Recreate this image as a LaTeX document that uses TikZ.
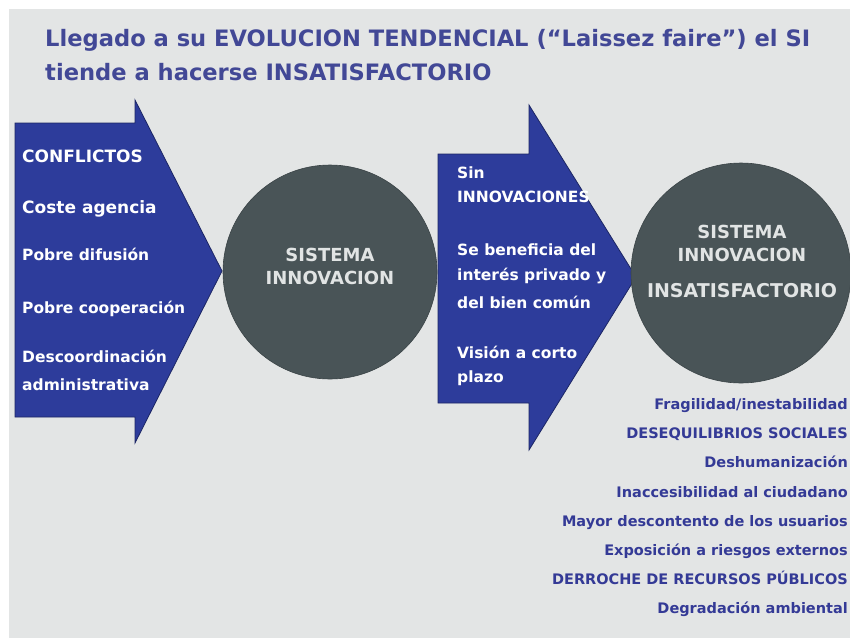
\documentclass[tikz,border=0pt]{standalone}
\usepackage{fontspec}
\setmainfont{DejaVu Sans}
\definecolor{bg}{RGB}{227,229,229}
\definecolor{arrowblue}{RGB}{45,60,155}
\definecolor{arrowedge}{RGB}{28,38,100}
\definecolor{circgray}{RGB}{73,84,87}
\definecolor{circtext}{RGB}{225,228,228}
\definecolor{titleblue}{RGB}{66,72,150}
\definecolor{listblue}{RGB}{52,58,150}
\begin{document}
\begin{tikzpicture}[x=1pt,y=-1pt,
  arrowshape/.style={fill=arrowblue,draw=arrowedge,line width=0.8pt,line join=miter},
  circnode/.style={circle,fill=circgray,draw=circgray!80!black,line width=0.6pt,inner sep=0pt},
  titletxt/.style={anchor=base west,inner sep=0pt,text=titleblue,font=\fontsize{22.6}{26}\selectfont\bfseries},
  arrtxt/.style={anchor=base west,inner sep=0pt,text=white,font=\fontsize{15.5}{18}\selectfont\bfseries},
  bigarrtxt/.style={anchor=base west,inner sep=0pt,text=white,font=\fontsize{17}{20}\selectfont\bfseries},
  circtxt/.style={anchor=base,inner sep=0pt,text=circtext,font=\fontsize{18}{21}\selectfont\bfseries},
  bigcirctxt/.style={anchor=base,inner sep=0pt,text=circtext,font=\fontsize{19}{22}\selectfont\bfseries},
  listtxt/.style={anchor=base east,inner sep=0pt,text=listblue,font=\fontsize{14.5}{17}\selectfont\bfseries}]
\useasboundingbox (0,0) rectangle (850,638);
\fill[white] (0,0) rectangle (850,638);
\fill[bg] (9,9) rectangle (850,638);

% title
\node[titletxt] (t1) at (45,46) {Llegado a su EVOLUCION TENDENCIAL (``Laissez faire'') el SI};
\node[titletxt] (t2) at (45,80) {tiende a hacerse INSATISFACTORIO};

% arrows
\draw[arrowshape] (15,123) -- (135,123) -- (135,100) -- (222,271) -- (135,443) -- (135,417) -- (15,417) -- cycle;
\draw[arrowshape] (438,154) -- (529,154) -- (529,105) -- (636,277) -- (529,450) -- (529,403) -- (438,403) -- cycle;

% circles
\node[circnode,minimum size=214pt] (c1) at (330,272) {};
\node[circnode,minimum size=220pt] (c2) at (741,273) {};

% arrow 1 text
\node[bigarrtxt] (a1) at (22,162) {CONFLICTOS};
\node[bigarrtxt] (a2) at (22,213) {Coste agencia};
\node[arrtxt] (a3) at (22,260) {Pobre difusión};
\node[arrtxt] (a4) at (22,313) {Pobre cooperación};
\node[arrtxt] (a5) at (22,362) {Descoordinación};
\node[arrtxt] (a6) at (22,390) {administrativa};

% arrow 2 text
\node[arrtxt] (b1) at (457,178) {Sin};
\node[arrtxt] (b2) at (457,202) {INNOVACIONES};
\node[arrtxt] (b3) at (457,255) {Se beneficia del};
\node[arrtxt] (b4) at (457,280) {interés privado y};
\node[arrtxt] (b5) at (457,308) {del bien común};
\node[arrtxt] (b6) at (457,358) {Visión a corto};
\node[arrtxt] (b7) at (457,382) {plazo};

% circle texts
\node[circtxt] (c1a) at (330,261) {SISTEMA};
\node[circtxt] (c1b) at (330,284) {INNOVACION};
\node[circtxt] (c2a) at (742,238) {SISTEMA};
\node[circtxt] (c2b) at (742,261) {INNOVACION};
\node[bigcirctxt] (c2c) at (742,297) {INSATISFACTORIO};

% list
\node[listtxt] (l1) at (848,409) {Fragilidad/inestabilidad};
\node[listtxt] (l2) at (848,438) {DESEQUILIBRIOS SOCIALES};
\node[listtxt] (l3) at (848,467) {Deshumanización};
\node[listtxt] (l4) at (848,497) {Inaccesibilidad al ciudadano};
\node[listtxt] (l5) at (848,526) {Mayor descontento de los usuarios};
\node[listtxt] (l6) at (848,555) {Exposición a riesgos externos};
\node[listtxt] (l7) at (848,584) {DERROCHE DE RECURSOS PÚBLICOS};
\node[listtxt] (l8) at (848,613) {Degradación ambiental};
\end{tikzpicture}
\end{document}
